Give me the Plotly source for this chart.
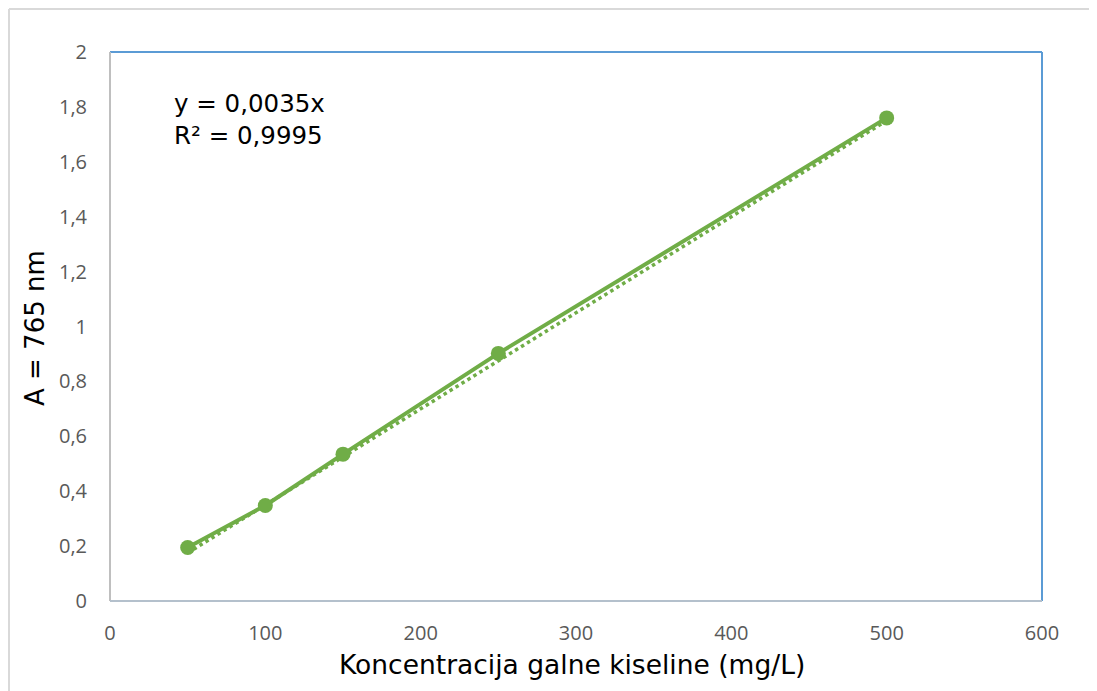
import plotly.graph_objects as go

conc = [50, 100, 150, 250, 500]
absorb = [0.195, 0.348, 0.535, 0.902, 1.76]
slope = 0.0035
trend_x = [50, 500]
trend_y = [slope * v for v in trend_x]
eq_text = "y = 0,0035x<br>R² = 0,9995"
x_title = "Koncentracija galne kiseline (mg/L)"
y_title = "A = 765 nm"
x_ticks = [0, 100, 200, 300, 400, 500, 600]
y_ticks = [0, 0.2, 0.4, 0.6, 0.8, 1, 1.2, 1.4, 1.6, 1.8, 2]
y_tick_labels = ["0", "0,2", "0,4", "0,6", "0,8", "1", "1,2", "1,4", "1,6", "1,8", "2"]

green = "#70ad47"
W, H = 1097, 691
# figure coordinates (page body offset ~8px)
L, R, T, B = 102, 1034, 44, 593

fig = go.Figure()
fig.add_trace(go.Scatter(x=trend_x, y=trend_y, mode="lines",
                         line=dict(color=green, width=3.5, dash="dot"), showlegend=False))
fig.add_trace(go.Scatter(x=conc, y=absorb, mode="lines+markers",
                         line=dict(color=green, width=4),
                         marker=dict(color=green, size=15), showlegend=False))

pw, ph = R - L, B - T
def px(x):
    return (x - L) / pw
def py(y):
    return (B - y) / ph

shapes = [
    # outer chart border (left and top)
    dict(type="line", xref="paper", yref="paper", x0=px(1), x1=px(1200), y0=py(1), y1=py(1),
         line=dict(color="#d9d9d9", width=2)),
    dict(type="line", xref="paper", yref="paper", x0=px(1), x1=px(1), y0=py(1), y1=py(800),
         line=dict(color="#d9d9d9", width=2)),
    # plot area border
    dict(type="line", xref="paper", yref="paper", x0=0, x1=1, y0=1, y1=1,
         line=dict(color="#5b9bd5", width=2)),
    dict(type="line", xref="paper", yref="paper", x0=1, x1=1, y0=0, y1=1,
         line=dict(color="#5b9bd5", width=2)),
    dict(type="line", xref="paper", yref="paper", x0=0, x1=0, y0=0, y1=1,
         line=dict(color="#bfbfbf", width=2)),
    dict(type="line", xref="paper", yref="paper", x0=0, x1=1, y0=0, y1=0,
         line=dict(color="#b4c0cc", width=2)),
]

tickfont = dict(size=20, family="Open Sans", color="#595959")

fig.update_layout(
    width=W, height=H,
    margin=dict(l=L, r=W - R, t=T, b=H - B),
    paper_bgcolor="white", plot_bgcolor="white",
    font=dict(family="DejaVu Sans", color="#595959"),
    shapes=shapes,
    xaxis=dict(range=[0, 600], tickvals=x_ticks, showgrid=False, zeroline=False,
               showline=False, ticks="outside", ticklen=0, ticklabelstandoff=14,
               tickfont=tickfont),
    yaxis=dict(range=[0, 2], tickvals=y_ticks, ticktext=y_tick_labels, showgrid=False,
               zeroline=False, showline=False, ticks="outside", ticklen=0,
               ticklabelstandoff=18, tickfont=tickfont),
    annotations=[
        dict(x=px(164), y=py(79), xref="paper", yref="paper", text=eq_text,
             showarrow=False, xanchor="left", yanchor="top", align="left",
             font=dict(size=24.5, color="black", family="DejaVu Sans")),
        dict(x=px(564), y=py(656), xref="paper", yref="paper", text=x_title,
             showarrow=False, xanchor="center", yanchor="middle",
             font=dict(size=26.5, color="black", family="DejaVu Sans")),
        dict(x=px(27), y=py(320), xref="paper", yref="paper", text=y_title,
             showarrow=False, xanchor="center", yanchor="middle", textangle=-90,
             font=dict(size=26, color="black", family="DejaVu Sans")),
    ],
)

fig.write_html("out.html")
